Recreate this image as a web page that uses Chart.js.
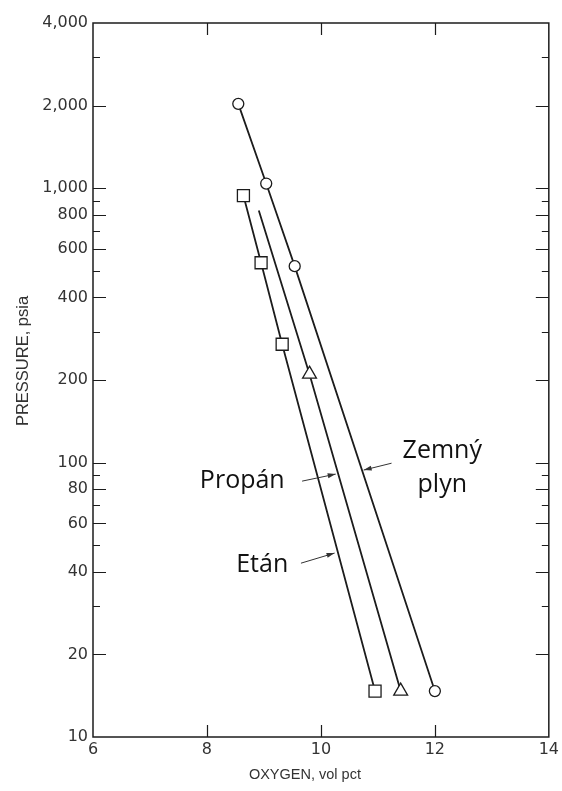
<!DOCTYPE html>
<html>
<head>
<meta charset="utf-8">
<script src="https://cdn.jsdelivr.net/npm/chart.js@4.4.1/dist/chart.umd.min.js"></script>
<style>
  html, body { margin: 0; padding: 0; background: #fff; }
  #wrap { width: 562px; height: 791px; position: relative; }
</style>
</head>
<body>
<div id="wrap"><canvas id="c"></canvas></div>
<script>
// Flammability limits: oxygen content (vol pct) vs pressure (psia)
const seriesNames = ['Zemný plyn', 'Etán', 'Propán'];

const oxygenNatGas   = [8.55, 9.04, 9.54, 12.0];
const pressureNatGas = [2030, 1040, 520, 14.7];

const oxygenEthane   = [8.64, 8.95, 9.32, 10.95];
const pressureEthane = [940, 535, 270, 14.7];

// the propane curve starts without a measured point
const oxygenPropane   = [8.91, 9.8, 11.4];
const pressurePropane = [830, 210, 14.7];
const propaneMeasured = [false, true, true];

const xTickValues = [6, 8, 10, 12, 14];
const yTickValues = [10, 20, 40, 60, 80, 100, 200, 400, 600, 800, 1000, 2000, 4000];
const yMinorValues = [30, 50, 70, 90, 300, 500, 700, 900, 3000];

const xAxisTitle = 'OXYGEN, vol pct';
const yAxisTitle = 'PRESSURE, psia';

const INK = '#1c1c1c';
const TEXT = '#333';

function points(xs, ys) {
  return xs.map((x, i) => ({ x, y: ys[i] }));
}

const baseSet = {
  borderColor: INK,
  borderWidth: 1.8,
  pointBackgroundColor: '#fff',
  pointBorderColor: INK,
  pointBorderWidth: 1.3,
  tension: 0,
  fill: false,
  showLine: true
};

// frame, inward tick marks, axis titles and arrow notes
const framePlugin = {
  id: 'framePlugin',
  afterDraw(chart, args, opts) {
    const { ctx, chartArea: a, scales } = chart;
    const xs = scales.x, ys = scales.y;
    ctx.save();
    ctx.strokeStyle = INK;
    ctx.lineWidth = 1.5;
    ctx.strokeRect(a.left, a.top, a.right - a.left, a.bottom - a.top);

    ctx.lineWidth = 1.2;
    ctx.beginPath();
    const yMajor = yTickValues.filter(v => v > 10 && v < 4000);
    yMajor.forEach(v => {
      const p = Math.round(ys.getPixelForValue(v)) + 0.5;
      ctx.moveTo(a.left, p); ctx.lineTo(a.left + 13, p);
      ctx.moveTo(a.right, p); ctx.lineTo(a.right - 13, p);
    });
    yMinorValues.forEach(v => {
      const p = Math.round(ys.getPixelForValue(v)) + 0.5;
      ctx.moveTo(a.left, p); ctx.lineTo(a.left + 7, p);
      ctx.moveTo(a.right, p); ctx.lineTo(a.right - 7, p);
    });
    xTickValues.filter(v => v > 6 && v < 14).forEach(v => {
      const p = Math.round(xs.getPixelForValue(v)) + 0.5;
      ctx.moveTo(p, a.bottom); ctx.lineTo(p, a.bottom - 12);
      ctx.moveTo(p, a.top); ctx.lineTo(p, a.top + 12);
    });
    ctx.stroke();

    // axis titles
    ctx.fillStyle = TEXT;
    ctx.textAlign = 'center';
    ctx.textBaseline = 'middle';
    ctx.font = '14.5px "Liberation Sans", Arial, sans-serif';
    ctx.fillText(xAxisTitle, (a.left + a.right) / 2 - 16, a.bottom + 38);
    ctx.save();
    ctx.translate(23, (a.top + a.bottom) / 2 - 19);
    ctx.rotate(-Math.PI / 2);
    ctx.font = '16.5px "Liberation Sans", Arial, sans-serif';
    ctx.fillText(yAxisTitle, 0, 0);
    ctx.restore();

    // series labels
    ctx.fillStyle = '#111';
    ctx.font = '500 25px "Open Sans", "Noto Sans", sans-serif';
    ctx.textBaseline = 'alphabetic';
    opts.labels.forEach(l => {
      const px = xs.getPixelForValue(l.x);
      const py = ys.getPixelForValue(l.y);
      l.lines.forEach((t, i) => ctx.fillText(t, px, py + i * 34));
    });

    // arrows pointing at the curves
    ctx.strokeStyle = '#333';
    ctx.fillStyle = '#333';
    ctx.lineWidth = 1;
    opts.arrows.forEach(r => {
      const x0 = xs.getPixelForValue(r.from[0]), y0 = ys.getPixelForValue(r.from[1]);
      const x1 = xs.getPixelForValue(r.to[0]), y1 = ys.getPixelForValue(r.to[1]);
      const ang = Math.atan2(y1 - y0, x1 - x0);
      ctx.beginPath();
      ctx.moveTo(x0, y0); ctx.lineTo(x1, y1);
      ctx.stroke();
      ctx.beginPath();
      ctx.moveTo(x1, y1);
      ctx.lineTo(x1 - 8 * Math.cos(ang) + 2.5 * Math.sin(ang), y1 - 8 * Math.sin(ang) - 2.5 * Math.cos(ang));
      ctx.lineTo(x1 - 8 * Math.cos(ang) - 2.5 * Math.sin(ang), y1 - 8 * Math.sin(ang) + 2.5 * Math.cos(ang));
      ctx.closePath();
      ctx.fill();
    });
    ctx.restore();
  }
};

new Chart(document.getElementById('c'), {
  type: 'line',
  data: {
    datasets: [
      Object.assign({}, baseSet, {
        label: seriesNames[0],
        data: points(oxygenNatGas, pressureNatGas),
        pointStyle: 'circle',
        pointRadius: 5.5
      }),
      Object.assign({}, baseSet, {
        label: seriesNames[1],
        data: points(oxygenEthane, pressureEthane),
        pointStyle: 'rect',
        pointRadius: 8.5
      }),
      Object.assign({}, baseSet, {
        label: seriesNames[2],
        data: points(oxygenPropane, pressurePropane),
        pointStyle: 'triangle',
        pointRadius: ctx => propaneMeasured[ctx.dataIndex] ? 8 : 0
      })
    ]
  },
  options: {
    responsive: true,
    maintainAspectRatio: false,
    animation: false,
    events: [],
    layout: { padding: { top: 23, right: 11, left: 0, bottom: 0 } },
    scales: {
      x: {
        type: 'linear',
        min: 6,
        max: 14,
        afterBuildTicks: s => { s.ticks = xTickValues.map(v => ({ value: v })); },
        afterFit: s => { s.height = 54; },
        grid: { display: false, drawTicks: false },
        border: { display: false },
        ticks: {
          autoSkip: false,
          maxRotation: 0,
          padding: 3,
          color: TEXT,
          font: { family: '"DejaVu Sans", sans-serif', size: 16 }
        }
      },
      y: {
        type: 'logarithmic',
        min: 10,
        max: 4000,
        afterBuildTicks: s => { s.ticks = yTickValues.map(v => ({ value: v })); },
        afterFit: s => { s.width = 93; },
        grid: { display: false, drawTicks: false },
        border: { display: false },
        ticks: {
          autoSkip: false,
          padding: 5,
          color: TEXT,
          font: { family: '"DejaVu Sans", sans-serif', size: 16 },
          callback: v => Number(v).toLocaleString('en-US')
        }
      }
    },
    plugins: {
      legend: { display: false },
      tooltip: { enabled: false },
      framePlugin: {
        labels: [
          { lines: ['Zemný', 'plyn'], x: 12.13, y: 104 },
          { lines: ['Propán'], x: 8.62, y: 80.7 },
          { lines: ['Etán'], x: 8.97, y: 39.9 }
        ],
        arrows: [
          { from: [11.24, 99.5], to: [10.75, 93.9] },
          { from: [9.67, 85.6], to: [10.26, 90.8] },
          { from: [9.65, 43.0], to: [10.24, 46.8] }
        ]
      }
    }
  },
  plugins: [framePlugin]
});
</script>
</body>
</html>
